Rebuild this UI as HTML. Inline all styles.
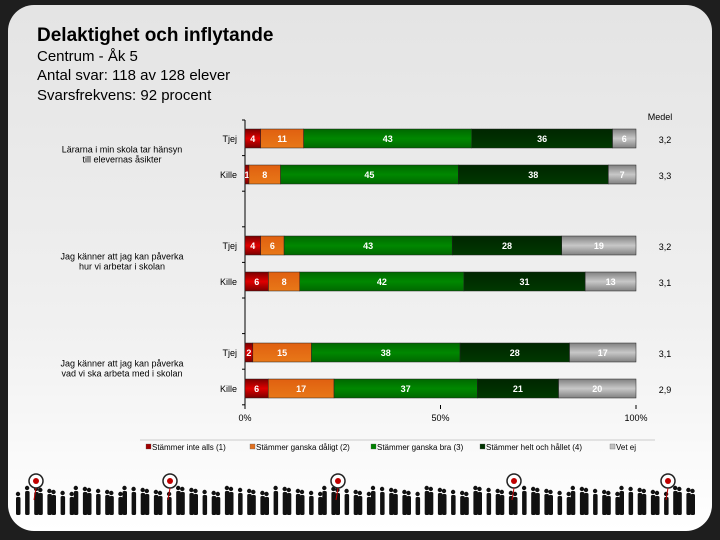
<!DOCTYPE html>
<html><head><meta charset="utf-8"><style>
body{margin:0;width:720px;height:540px;background:#1e1e1e;overflow:hidden;font-family:"Liberation Sans",sans-serif}
#card{position:absolute;left:8px;top:5px;width:704px;height:526px;border-radius:26px;background:linear-gradient(#e4e4e4,#f0f0f0 60%,#fff);}
.t{position:absolute;left:37px;color:#000}
</style></head><body>
<div id="card"></div>
<div class="t" style="top:25px;font-size:19px;font-weight:bold">Delaktighet och inflytande</div>
<div class="t" style="top:48px;font-size:15px">Centrum - Åk 5</div>
<div class="t" style="top:67px;font-size:15px">Antal svar: 118 av 128 elever</div>
<div class="t" style="top:87px;font-size:15px">Svarsfrekvens: 92 procent</div>
<svg id="chart" width="720" height="540" style="position:absolute;left:0;top:0">
<defs>
<linearGradient id="gRed" x1="0" y1="0" x2="0" y2="1"><stop offset="0" stop-color="#7a0000"/><stop offset=".5" stop-color="#e00000"/><stop offset="1" stop-color="#7a0000"/></linearGradient>
<linearGradient id="gOr" x1="0" y1="0" x2="0" y2="1"><stop offset="0" stop-color="#e06010"/><stop offset="1" stop-color="#e87818"/></linearGradient>
<linearGradient id="gGr" x1="0" y1="0" x2="0" y2="1"><stop offset="0" stop-color="#006800"/><stop offset=".5" stop-color="#008800"/><stop offset="1" stop-color="#006800"/></linearGradient>
<linearGradient id="gDg" x1="0" y1="0" x2="0" y2="1"><stop offset="0" stop-color="#002600"/><stop offset="1" stop-color="#003800"/></linearGradient>
<linearGradient id="gGy" x1="0" y1="0" x2="0" y2="1"><stop offset="0" stop-color="#808080"/><stop offset=".5" stop-color="#c8c8c8"/><stop offset="1" stop-color="#808080"/></linearGradient>
</defs>
</svg>
<script>
const rowLabels=["Tjej","Kille","Tjej","Kille","Tjej","Kille"];
const questions=["Lärarna i min skola tar hänsyn|till elevernas åsikter","Jag känner att jag kan påverka|hur vi arbetar i skolan","Jag känner att jag kan påverka|vad vi ska arbeta med i skolan"];
const s1=[4,1,4,6,2,6];
const s2=[11,8,6,8,15,17];
const s3=[43,45,43,42,38,37];
const s4=[36,38,28,31,28,21];
const s5=[6,7,19,13,17,20];
const medel=["3,2","3,3","3,2","3,1","3,1","2,9"];
const ticks=[0,50,100];
const legendNames=["Stämmer inte alls (1)","Stämmer ganska dåligt (2)","Stämmer ganska bra (3)","Stämmer helt och hållet (4)","Vet ej"];
const NS="http://www.w3.org/2000/svg";
const svg=document.getElementById('chart');
const X0=245,X1=636;
const x=v=>X0+(X1-X0)*v/100;
const rowY=[129,165,236,272,343,379];
const BH=19;
function mk(t,a,p){const e=document.createElementNS(NS,t);for(const k in a)e.setAttribute(k,a[k]);(p||svg).appendChild(e);return e;}
const fills=["url(#gRed)","url(#gOr)","url(#gGr)","url(#gDg)","url(#gGy)"];
const series=[s1,s2,s3,s4,s5];
const ax=mk('line',{x1:X0,y1:120,x2:X0,y2:405,stroke:'#000','stroke-width':1});

for(let i=0;i<=8;i++){const yy=120+i*35.6;const tk=mk('line',{x1:X0-3,y1:yy,x2:X0,y2:yy,stroke:'#000'});}
ticks.forEach(t=>{
 const tl=mk('line',{x1:x(t),y1:405,x2:x(t),y2:409,stroke:'#000'});
 
 const tx=mk('text',{x:x(t),y:421,'font-size':9,'text-anchor':'middle',fill:'#000'});tx.textContent=t+'%';
 
});
const mh=mk('text',{x:660,y:120,'font-size':9,'text-anchor':'middle'});mh.textContent='Medel';

rowLabels.forEach((lab,r)=>{
 const y=rowY[r];
 const rl=mk('text',{x:237,y:y+13,'font-size':9,'text-anchor':'end'});rl.textContent=lab;
 
 const tot=series.reduce((a,s)=>a+s[r],0);
 let acc=0;
 series.forEach((s,k)=>{
  const v=s[r];
  const a0=acc/tot*100,a1=(acc+v)/tot*100;
  const b=mk('rect',{x:x(a0),y:y,width:x(a1)-x(a0),height:BH,fill:fills[k],stroke:'#222','stroke-width':0.5});
  
  const tv=mk('text',{x:(x(a0)+x(a1))/2,y:y+13,'font-size':9,'font-weight':'bold','text-anchor':'middle',fill:'#fff'});tv.textContent=v;
  
  acc+=v;
 });
 const md=mk('text',{x:665,y:y+14,'font-size':9,'text-anchor':'middle'});md.textContent=medel[r];
 
});
questions.forEach((q,i)=>{
 const parts=q.split('|');const cy=(rowY[i*2]+rowY[i*2+1]+BH)/2;
 parts.forEach((p,j)=>{const t=mk('text',{x:122,y:cy-4+j*10,'font-size':9,'text-anchor':'middle'});t.textContent=p;
 });
});
const lb=mk('line',{x1:140,y1:440,x2:655,y2:440,stroke:'#ccc'});
const lcol=["#a00000","#e07020","#008000","#003300","#c0c0c0"];
const lx=[152,256,377,486,616];
legendNames.forEach((n,i)=>{
 const r=mk('rect',{x:lx[i]-6,y:444,width:5,height:5,fill:lcol[i],stroke:'#555','stroke-width':.3});
 
 const t=mk('text',{x:lx[i],y:450,'font-size':8});t.textContent=n;
 
});
for(let i=0;i<96;i++){
 const px=18+i*7.1+((i*37)%5)-2;
 const h=18+((i*13)%7);
 const g=mk('g',{fill:'#111'});
 mk('circle',{cx:px+2,cy:515-h-3,r:2.2},g);
 mk('rect',{x:px,y:515-h,width:4.5,height:h,rx:1.5},g);
 
}
[36,170,338,514,668].forEach(cx=>{
 const g=mk('g',{});
 mk('circle',{cx:cx,cy:481,r:7,fill:'#fff',stroke:'#222','stroke-width':1.5},g);
 mk('circle',{cx:cx,cy:481,r:3,fill:'#c00000'},g);
 mk('line',{x1:cx,y1:488,x2:cx-2,y2:500,stroke:'#c00000'},g);
 
});
</script>
</body></html>
